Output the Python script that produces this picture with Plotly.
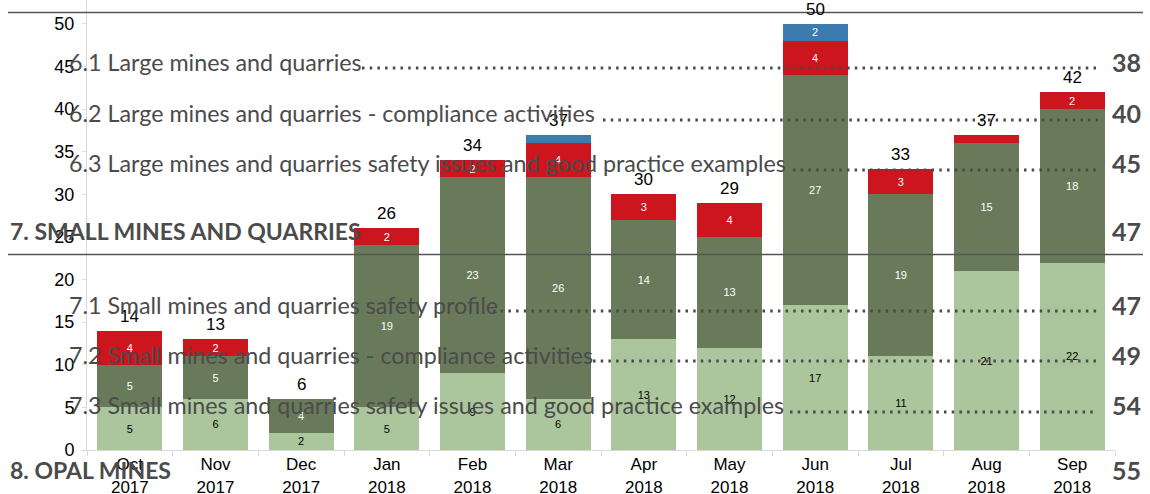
import plotly.graph_objects as go

months = ["Oct<br>2017", "Nov<br>2017", "Dec<br>2017", "Jan<br>2018", "Feb<br>2018", "Mar<br>2018",
          "Apr<br>2018", "May<br>2018", "Jun<br>2018", "Jul<br>2018", "Aug<br>2018", "Sep<br>2018"]
light_green = [5, 6, 2, 5, 9, 6, 13, 12, 17, 11, 21, 22]
dark_green = [5, 5, 4, 19, 23, 26, 14, 13, 27, 19, 15, 18]
red = [4, 2, 0, 2, 2, 4, 3, 4, 4, 3, 1, 2]
blue = [0, 0, 0, 0, 0, 1, 0, 0, 2, 0, 0, 0]
totals = [a + b + c + d for a, b, c, d in zip(light_green, dark_green, red, blue)]

toc_entries = [
    ("6.1 Large mines and quarries", "38", False),
    ("6.2 Large mines and quarries - compliance activities", "40", False),
    ("6.3 Large mines and quarries safety issues and good practice examples", "45", False),
    ("7. SMALL MINES AND QUARRIES", "47", True),
    ("7.1 Small mines and quarries safety profile", "47", False),
    ("7.2 Small mines and quarries - compliance activities", "49", False),
    ("7.3 Small mines and quarries safety issues and good practice examples", "54", False),
    ("8. OPAL MINES", "55", True),
]

W, H = 1150, 494
ML, MR, MT, MB = 87, 35, 0, 44
PW, PH = W - ML - MR, H - MT - MB


def px(x):
    return (x - ML) / PW


def py(y):
    return (H - MB - y) / PH


def lbl(vals, minv=2):
    return [str(v) if v >= minv else "" for v in vals]


fig = go.Figure()
series = [
    (light_green, "#abc69c", "black"),
    (dark_green, "#687a5a", "white"),
    (red, "#cc151c", "white"),
    (blue, "#3b7bb0", "white"),
]
for vals, col, tcol in series:
    fig.add_trace(go.Bar(
        x=months, y=vals, marker=dict(color=col, line=dict(width=0)),
        text=lbl(vals), textposition="inside", insidetextanchor="middle", textangle=0,
        textfont=dict(family="Arial", size=11, color=tcol),
        constraintext="none", showlegend=False, hoverinfo="skip",
    ))

annotations = []
for m, t in zip(months, totals):
    annotations.append(dict(x=m, y=t, xref="x", yref="y", text=str(t), showarrow=False,
                            yanchor="bottom", yshift=3,
                            font=dict(family="Arial", size=17, color="black")))

TOC_COLOR = "#4b4b4b"
text_y = [62, 113, 163, 231, 305, 355, 405, 470]
lead_y = [68, 120, 170, None, 311, 361, 412, None]
lead_x0 = [362, 603, 793, None, 493, 593, 790, None]
shapes = []
for (title, page, bold), ty, ly, lx in zip(toc_entries, text_y, lead_y, lead_x0):
    if bold:
        annotations.append(dict(x=px(8), y=py(ty), xref="paper", yref="paper", text="<b>" + title + "</b>",
                                showarrow=False, xanchor="left", yanchor="middle",
                                font=dict(family="Lato", size=23, color=TOC_COLOR)))
    else:
        annotations.append(dict(x=px(67), y=py(ty), xref="paper", yref="paper", text=title,
                                showarrow=False, xanchor="left", yanchor="middle",
                                font=dict(family="Lato", size=23.3, color=TOC_COLOR)))
    annotations.append(dict(x=px(1143), y=py(ty), xref="paper", yref="paper", text="<b>" + page + "</b>",
                            showarrow=False, xanchor="right", yanchor="middle",
                            font=dict(family="Lato", size=25, color=TOC_COLOR)))
    if ly is not None:
        shapes.append(dict(type="line", xref="paper", yref="paper", x0=px(lx), x1=px(1098),
                           y0=py(ly), y1=py(ly), layer="above",
                           line=dict(color=TOC_COLOR, width=3, dash="2.5px,5.2px")))

for ry in [12.5, 254.5]:
    shapes.append(dict(type="line", xref="paper", yref="paper", x0=px(8), x1=px(1143),
                       y0=py(ry), y1=py(ry), layer="above",
                       line=dict(color="#555555", width=1.5)))

fig.update_layout(
    width=W, height=H, barmode="stack", bargap=0.24,
    margin=dict(l=ML, r=MR, t=MT, b=MB, pad=0, autoexpand=False),
    plot_bgcolor="white", paper_bgcolor="white",
    annotations=annotations, shapes=shapes,
    xaxis=dict(showline=True, linecolor="#d9d9d9", linewidth=1, ticks="outside", tickson="boundaries",
               ticklen=5, tickcolor="#d9d9d9", tickfont=dict(family="Arial", size=17, color="black"),
               showgrid=False, fixedrange=True, automargin=False, ticklabelstandoff=-1),
    yaxis=dict(range=[0, 52.8], tickvals=[0, 5, 10, 15, 20, 25, 30, 35, 40, 45, 50],
               showline=True, linecolor="#d9d9d9", linewidth=1, ticks="outside", ticklen=4,
               tickcolor="#d9d9d9", tickfont=dict(family="Arial", size=18, color="black"),
               showgrid=False, zeroline=False, ticklabelstandoff=4, automargin=False),
)

fig.write_html("out.html", config={"displayModeBar": False},
               post_script="document.body.style.margin='0px';document.body.style.overflow='hidden';")
